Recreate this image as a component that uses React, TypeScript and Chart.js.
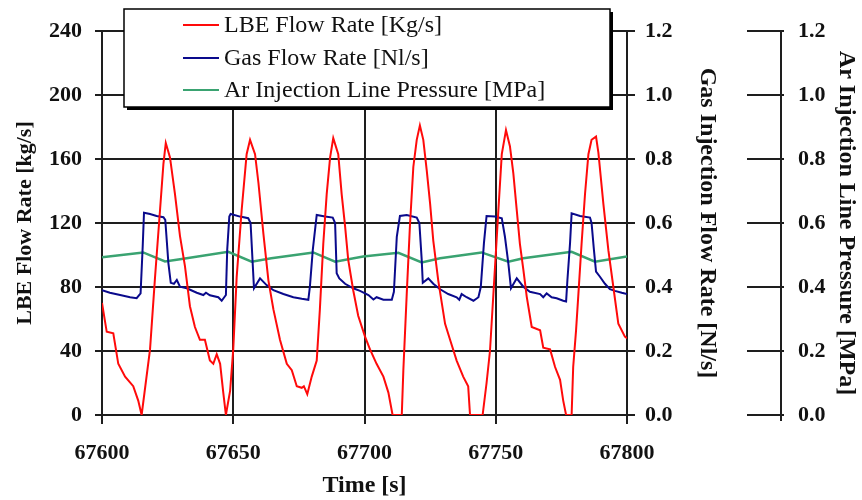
import React, { useEffect, useRef } from "react";
import { Chart, registerables } from "chart.js";

Chart.register(...registerables);

// ---- Data ----
const lbeTime = [
  67600, 67601.8, 67604.3, 67606.2, 67608.8, 67611.9, 67613.8, 67615.1, 67618.3, 67620.2,
  67622.1, 67623.4, 67624.3, 67625.9, 67627.8, 67629.7, 67631.6, 67633.5, 67635.4, 67637.3,
  67639.2, 67641.1, 67642.4, 67643.7, 67645, 67646.2, 67647.2, 67648.8, 67650, 67651.3,
  67653.2, 67655.1, 67656.4, 67658.3, 67659.6, 67661.5, 67663.4, 67665.3, 67667.8, 67670.4,
  67672.3, 67674.2, 67676.1, 67676.9, 67678.2, 67679.9, 67681.8, 67683, 67684.3, 67685.6,
  67686.9, 67688.1, 67690, 67691.3, 67692.6, 67693.8, 67695.7, 67697.6, 67700.2, 67702.1,
  67704.6, 67707.2, 67709.1, 67710.7, 67714.2, 67714.8, 67716.1, 67717.3, 67718.6, 67719.9,
  67721.1, 67722.4, 67723.7, 67725, 67726.2, 67728.1, 67730.7, 67732.6, 67735.1, 67737.6,
  67739.5, 67740.2, 67745, 67746.5, 67747.8, 67749.7, 67751, 67752.3, 67753.9, 67755.4,
  67756.7, 67758, 67759.2, 67760.5, 67761.8, 67763.7, 67766.9, 67768.1, 67770.7, 67772.6,
  67774.5, 67775.7, 67776.8, 67778.9, 67779.5, 67780.6, 67781.5, 67782.7, 67784, 67785.3,
  67786.5, 67788.2, 67789.1, 67791, 67792.9, 67794.8, 67796.7, 67799.2, 67800,
];
const lbeFlow = [
  70, 52, 51, 32, 24, 18, 9, 0, 41, 86,
  128, 157, 170, 161, 138, 112, 93, 68, 55, 47,
  47, 34, 32, 38, 32, 14, 0, 15, 41, 86,
  128, 163, 172, 163, 145, 113, 84, 66, 47, 32,
  28, 18, 17, 18, 13, 24, 34, 66, 107, 138,
  161, 173, 163, 138, 118, 97, 78, 62, 49, 41,
  32, 24, 14, 0, 0, 28, 76, 118, 155, 172,
  181, 172, 153, 132, 109, 84, 57, 47, 34, 24,
  18, 0, 0, 20, 40, 92, 128, 163, 178, 168,
  151, 128, 107, 91, 74, 55, 53, 42, 41, 30,
  22, 9, 0, 0, 30, 53, 76, 107, 138, 163,
  172, 174, 164, 132, 103, 80, 57, 49, 48,
];

const gasTime = [
  67600, 67603, 67606.9, 67610.7, 67613.2, 67614.7, 67615.5, 67616, 67618.3, 67620.8,
  67623.4, 67624.1, 67625.3, 67626.2, 67627.4, 67628.5, 67629.7, 67632.3, 67636.1, 67638.6,
  67639.6, 67641.1, 67644.3, 67645.6, 67647.2, 67647.7, 67648.5, 67649, 67652.6, 67655.7,
  67656.6, 67657.4, 67657.9, 67660.2, 67662.7, 67665.3, 67669.1, 67672.9, 67676.1, 67678.6,
  67679.2, 67680.3, 67681.8, 67685, 67687.9, 67688.8, 67689.4, 67690.4, 67692.6, 67695.7,
  67698.3, 67701.5, 67703.4, 67704.6, 67707.2, 67710.4, 67711.2, 67712.3, 67713.5, 67716.1,
  67719.9, 67720.9, 67721.8, 67722.2, 67724.3, 67726.2, 67728.8, 67731.9, 67735.1, 67736.1,
  67737, 67738.9, 67741.5, 67743.4, 67744.3, 67745.5, 67746.5, 67749.7, 67752.3, 67753.5,
  67754.8, 67755.8, 67758, 67760.5, 67763, 67766.9, 67768.1, 67769.4, 67771.3, 67773.2,
  67775.7, 67776.8, 67777.3, 67778.3, 67778.9, 67782.1, 67785.9, 67786.5, 67787.4, 67788.2,
  67789.7, 67791.6, 67793.5, 67795.4, 67798, 67800,
];
const gasFlow = [
  0.39, 0.382, 0.375, 0.368, 0.365, 0.38, 0.526, 0.632, 0.628, 0.622,
  0.618, 0.61, 0.474, 0.413, 0.41, 0.422, 0.401, 0.396, 0.382, 0.375,
  0.382, 0.374, 0.368, 0.357, 0.375, 0.516, 0.62, 0.628, 0.62, 0.615,
  0.6, 0.474, 0.396, 0.427, 0.406, 0.39, 0.378, 0.368, 0.363, 0.36,
  0.401, 0.516, 0.625, 0.62, 0.617, 0.6, 0.443, 0.427, 0.41, 0.396,
  0.388, 0.375, 0.361, 0.368, 0.36, 0.36, 0.385, 0.557, 0.622, 0.625,
  0.617, 0.6, 0.484, 0.413, 0.427, 0.41, 0.393, 0.378, 0.368, 0.36,
  0.378, 0.368, 0.357, 0.368, 0.4, 0.537, 0.622, 0.62, 0.615, 0.557,
  0.474, 0.396, 0.427, 0.401, 0.385, 0.378, 0.368, 0.38, 0.368, 0.365,
  0.357, 0.355, 0.422, 0.537, 0.63, 0.622, 0.617, 0.6, 0.516, 0.448,
  0.432, 0.41, 0.393, 0.388, 0.382, 0.378,
];

const pressTime = [
  67600, 67615.7, 67624, 67631, 67648.1, 67657, 67664.5, 67680.5, 67688.8, 67699.5,
  67712.9, 67721.8, 67728.8, 67744.6, 67754.8, 67760.5, 67778.9, 67787.8, 67800,
];
const pressValue = [
  0.493, 0.508, 0.48, 0.488, 0.51, 0.479, 0.49, 0.508, 0.479, 0.495,
  0.507, 0.477, 0.49, 0.508, 0.479, 0.49, 0.51, 0.479, 0.495,
];

const xTicks = [67600, 67650, 67700, 67750, 67800];
const seriesLabels = [
  "LBE Flow Rate [Kg/s]",
  "Gas Flow Rate [Nl/s]",
  "Ar Injection Line Pressure [MPa]",
];
const axisTitles = {
  x: "Time [s]",
  y: "LBE Flow Rate [kg/s]",
  y1: "Gas Injection Flow Rate [Nl/s]",
  y2: "Ar Injection Line Pressure [MPa]",
};

const SERIF = '"Liberation Serif", "DejaVu Serif", serif';
const INK = "#1e1e1e";
const RED = "#ff0a0a";
const NAVY = "#0a0a8c";
const GREEN = "#3aa371";

const pts = (xs: number[], ys: number[]) => xs.map((x, i) => ({ x, y: ys[i] }));

const legendBoxPlugin = {
  id: "legendBox",
  afterDraw(chart: any) {
    const ctx = chart.ctx as CanvasRenderingContext2D;
    const area = chart.chartArea;
    const x = area.left + 22;
    const y = 9;
    const w = 486;
    const h = 98;
    ctx.save();
    ctx.fillStyle = "#000";
    ctx.fillRect(x + 3, y + 3, w, h);
    ctx.fillStyle = "#fff";
    ctx.fillRect(x, y, w, h);
    ctx.strokeStyle = "#000";
    ctx.lineWidth = 1.5;
    ctx.strokeRect(x, y, w, h);
    const rows = [25, 58, 90];
    chart.data.datasets.forEach((ds: any, i: number) => {
      const ry = rows[i];
      ctx.strokeStyle = ds.borderColor;
      ctx.lineWidth = 2;
      ctx.beginPath();
      ctx.moveTo(x + 59, ry);
      ctx.lineTo(x + 95, ry);
      ctx.stroke();
      ctx.fillStyle = "#111";
      ctx.font = `24px ${SERIF}`;
      ctx.textBaseline = "middle";
      ctx.textAlign = "left";
      ctx.fillText(ds.label, x + 100, ry + 1);
    });
    ctx.restore();
  },
};

const pressureAxisLinePlugin = {
  id: "pressureAxisLine",
  afterDraw(chart: any) {
    const s = chart.scales.y2;
    if (!s) return;
    const ctx = chart.ctx as CanvasRenderingContext2D;
    ctx.save();
    ctx.strokeStyle = INK;
    ctx.lineWidth = 2;
    ctx.beginPath();
    ctx.moveTo(s.left + 34, s.top);
    ctx.lineTo(s.left + 34, s.bottom + 6);
    ctx.stroke();
    ctx.restore();
  },
};

export default function App() {
  const ref = useRef<HTMLCanvasElement | null>(null);

  useEffect(() => {
    if (!ref.current) return;
    const tickFont = { family: SERIF, size: 22, weight: "bold" as const };
    const ytickFont = { family: SERIF, size: 22, weight: "bold" as const };
    const chart = new Chart(ref.current, {
      type: "line",
      data: {
        datasets: [
          {
            label: seriesLabels[0],
            data: pts(lbeTime, lbeFlow),
            borderColor: RED,
            borderWidth: 2,
            yAxisID: "y",
            order: 1,
          },
          {
            label: seriesLabels[1],
            data: pts(gasTime, gasFlow),
            borderColor: NAVY,
            borderWidth: 2,
            yAxisID: "y1",
            order: 2,
          },
          {
            label: seriesLabels[2],
            data: pts(pressTime, pressValue),
            borderColor: GREEN,
            borderWidth: 2.5,
            yAxisID: "y2",
            order: 3,
          },
        ],
      },
      options: {
        responsive: false,
        animation: false,
        parsing: false,
        elements: { point: { radius: 0 }, line: { tension: 0 } },
        layout: { padding: { top: 31, left: 0, right: 0, bottom: 0 } },
        plugins: { legend: { display: false }, tooltip: { enabled: false } },
        scales: {
          x: {
            type: "linear",
            min: 67600,
            max: 67800,
            afterBuildTicks: (s: any) => {
              s.ticks = xTicks.map((v) => ({ value: v }));
            },
            afterFit: (s: any) => {
              s.height = 85;
            },
            ticks: {
              font: tickFont,
              color: "#111",
              padding: 16,
              maxRotation: 0,
              callback: (v: any) => String(v),
            },
            grid: { color: INK, lineWidth: 2, tickLength: 9 },
            border: { color: INK, width: 2 },
            title: {
              display: true,
              text: axisTitles.x,
              font: { family: SERIF, size: 24, weight: "bold" },
              color: "#111",
              padding: { top: 0, bottom: 0 },
            },
          },
          y: {
            position: "left",
            min: 0,
            max: 240,
            ticks: { stepSize: 40, font: ytickFont, color: "#111", padding: 13 },
            afterFit: (s: any) => {
              s.width = 102;
            },
            grid: { color: INK, lineWidth: 2, tickLength: 7 },
            border: { color: INK, width: 2 },
            title: {
              display: true,
              text: axisTitles.y,
              font: { family: SERIF, size: 22, weight: "bold" },
              color: "#111",
              padding: { top: 12, bottom: 0 },
            },
          },
          y1: {
            position: "right",
            min: 0,
            max: 1.2,
            afterFit: (s: any) => {
              s.width = 120;
            },
            ticks: {
              stepSize: 0.2,
              font: ytickFont,
              color: "#111",
              padding: 10,
              callback: (v: any) => Number(v).toFixed(1),
            },
            grid: { drawOnChartArea: false, color: INK, lineWidth: 2, tickLength: 8 },
            border: { color: INK, width: 2 },
            title: {
              display: true,
              text: axisTitles.y1,
              font: { family: SERIF, size: 24, weight: "bold" },
              color: "#111",
              padding: { top: 25, bottom: 0 },
            },
          },
          y2: {
            position: "right",
            min: 0,
            max: 1.2,
            afterFit: (s: any) => {
              s.width = 115;
            },
            ticks: {
              stepSize: 0.2,
              font: ytickFont,
              color: "#111",
              padding: 14,
              callback: (v: any) => Number(v).toFixed(1),
            },
            grid: { drawOnChartArea: false, color: INK, lineWidth: 2, tickLength: 37 },
            border: { display: false },
            title: {
              display: true,
              text: axisTitles.y2,
              font: { family: SERIF, size: 24, weight: "bold" },
              color: "#111",
              padding: { top: 1, bottom: 0 },
            },
          },
        },
      },
      plugins: [legendBoxPlugin, pressureAxisLinePlugin],
    } as any);
    return () => chart.destroy();
  }, []);

  return (
    <div style={{ position: "absolute", left: 0, top: 0, width: 862, height: 500, background: "#fff" }}>
      <canvas ref={ref} width={862} height={500} style={{ display: "block" }} />
    </div>
  );
}
